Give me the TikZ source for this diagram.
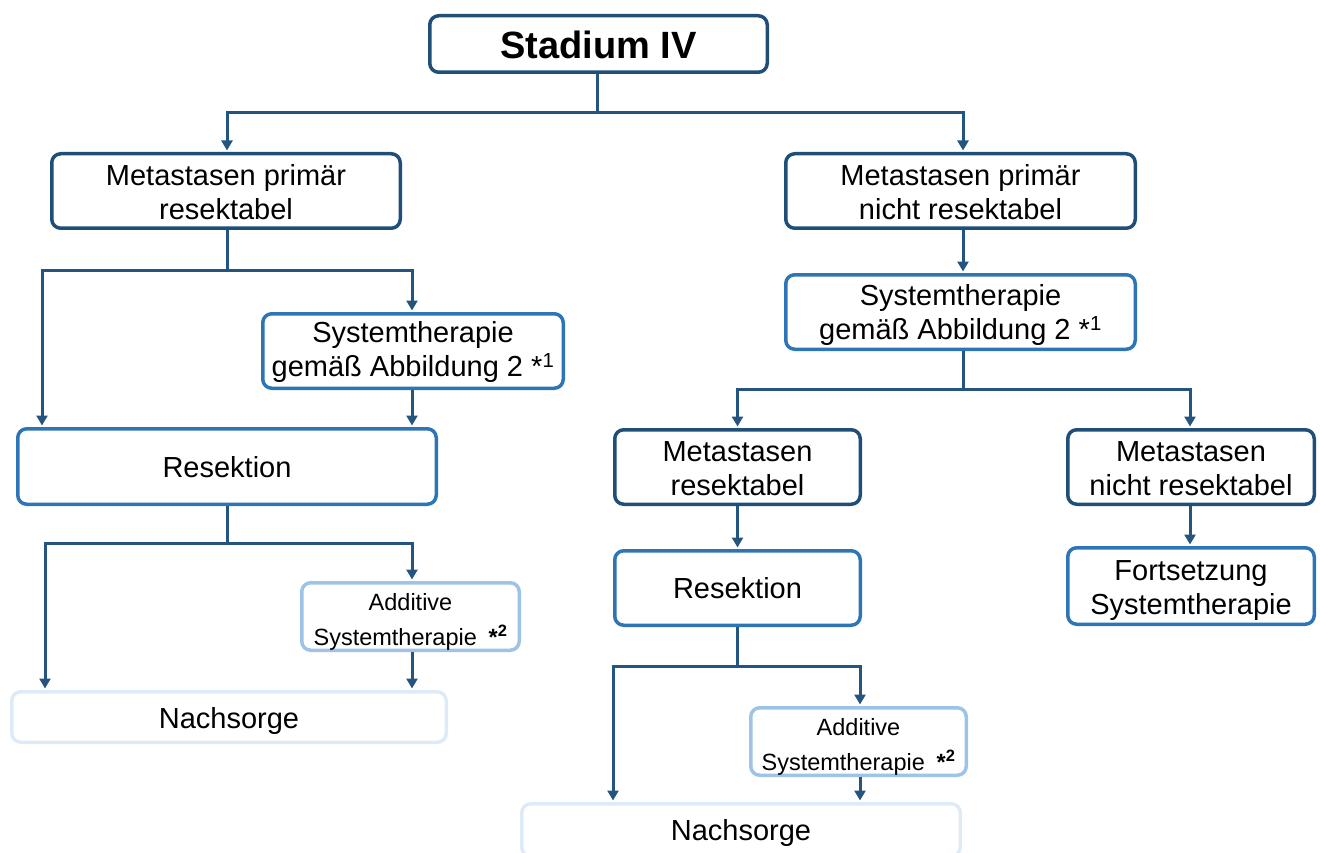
\documentclass[tikz,border=0pt]{standalone}
\usepackage{fontspec}
\setmainfont{Liberation Sans}
\usetikzlibrary{arrows.meta,calc}
\definecolor{dkblue}{RGB}{31,78,121}
\definecolor{mdblue}{RGB}{46,117,182}
\definecolor{ltblue}{RGB}{157,195,230}
\definecolor{pale}{RGB}{222,235,247}
\definecolor{arrowc}{RGB}{36,84,128}
\tikzset{
  x=1pt, y=-1pt,
  box/.style={draw, line width=3.5pt, rounded corners=9pt, inner sep=0pt},
  darkbox/.style={box, draw=dkblue},
  midbox/.style={box, draw=mdblue},
  lightbox/.style={box, draw=ltblue},
  palebox/.style={box, draw=pale},
  sz/.style 2 args={minimum width=#1pt-3.5pt, minimum height=#2pt-3.5pt},
  boxtext/.style={align=center, inner sep=0pt, text=black,
    font=\fontsize{29}{34}\selectfont},
  smalltext/.style={boxtext, font=\fontsize{23.5}{35}\selectfont},
  titletext/.style={boxtext, font=\fontsize{38}{44}\selectfont\bfseries},
  arr/.style={draw=arrowc, line width=3pt, shorten >=1.5pt,
    -{Triangle[width=11pt,length=10pt]}},
  ln/.style={draw=arrowc, line width=3pt},
}
% \flowbox{box style}{text style}{name}{x}{y}{width}{height}{text drop}{text}
\newcommand{\flowbox}[9]{%
  \node[#1, sz={#6}{#7}] (#3) at (#4,#5) {};
  \node[#2] (#3-t) at ($(#3.center)+(0,#8)$) {#9};
}
\begin{document}
\begin{tikzpicture}
\useasboundingbox (0,0) rectangle (1320,853);

% boxes
\flowbox{darkbox}{titletext}{st}{598.5}{44}{341}{60}{0.5}{Stadium IV}
\flowbox{darkbox}{boxtext}{l1}{226}{191}{352}{78}{1}{Metastasen primär\\resektabel}
\flowbox{darkbox}{boxtext}{r1}{960.5}{191}{353}{78}{1}{Metastasen primär\\nicht resektabel}
\flowbox{midbox}{boxtext}{ls}{413}{351}{304}{78}{1.5}{Systemtherapie\\gemäß Abbildung 2 *\textsuperscript{1}}
\flowbox{midbox}{boxtext}{lr}{227}{466.5}{422}{79}{1}{Resektion}
\flowbox{lightbox}{smalltext}{la}{410.5}{616.5}{221}{71}{5.5}{Additive\\Systemtherapie\hspace{0.5em}\textbf{*\textsuperscript{2}}}
\flowbox{palebox}{boxtext}{lnach}{229}{717}{438}{54}{3.5}{Nachsorge}
\flowbox{midbox}{boxtext}{rs}{960.5}{312}{353}{78}{3.5}{Systemtherapie\\gemäß Abbildung 2 *\textsuperscript{1}}
\flowbox{darkbox}{boxtext}{rmr}{737.5}{467}{249}{78}{1.5}{Metastasen\\resektabel}
\flowbox{darkbox}{boxtext}{rmn}{1191}{467}{250}{78}{1.5}{Metastasen\\nicht resektabel}
\flowbox{midbox}{boxtext}{rr}{737.5}{588}{249}{78}{0}{Resektion}
\flowbox{midbox}{boxtext}{rf}{1191}{586}{250}{80}{5}{Fortsetzung\\Systemtherapie}
\flowbox{lightbox}{smalltext}{ra}{858.5}{741.5}{219}{71}{5}{Additive\\Systemtherapie\hspace{0.5em}\textbf{*\textsuperscript{2}}}
\flowbox{palebox}{boxtext}{rnach}{741}{830}{442}{56}{3}{Nachsorge}

% branch points
\coordinate (j1) at (597,113);
\coordinate (j2) at (227,270);
\coordinate (j3) at (227,543);
\coordinate (j4) at (963,389);
\coordinate (j5) at (737.5,666);

% connectors
\draw[ln] (st.south -| j1) -- (j1);
\draw[arr] (j1) -| (l1.north -| j2);
\draw[arr] (j1) -| ($(r1.north)+(2.5,0)$);

\draw[ln] (l1.south -| j2) -- (j2);
\draw[arr] (j2) -| ($(lr.north west)+(26,0)$);
\draw[arr] (j2) -| ($(ls.north)+(-1,0)$);
\draw[arr] ($(ls.south)+(-1,0)$) -- ($(lr.north west)+(396,0)$);

\draw[ln] (lr.south) -- (j3);
\draw[arr] (j3) -| ($(lnach.north west)+(35,0)$);
\draw[arr] (j3) -| ($(la.north)+(1.5,0)$);
\draw[arr] ($(la.south)+(1.5,0)$) -- ($(lnach.north west)+(402,0)$);

\draw[arr] ($(r1.south)+(2.5,0)$) -- ($(rs.north)+(2.5,0)$);
\draw[ln] ($(rs.south)+(2.5,0)$) -- (j4);
\draw[arr] (j4) -| (rmr.north);
\draw[arr] (j4) -| ($(rmn.north)+(-1,0)$);

\draw[arr] (rmr.south) -- (rr.north);
\draw[arr] ($(rmn.south)+(-1,0)$) -- ($(rf.north)+(-1,0)$);

\draw[ln] (rr.south) -- (j5);
\draw[arr] (j5) -| ($(rnach.north west)+(93,0)$);
\draw[arr] (j5) -| ($(ra.north)+(1.5,0)$);
\draw[arr] ($(ra.south)+(1.5,0)$) -- ($(rnach.north west)+(340,0)$);
\end{tikzpicture}
\end{document}
